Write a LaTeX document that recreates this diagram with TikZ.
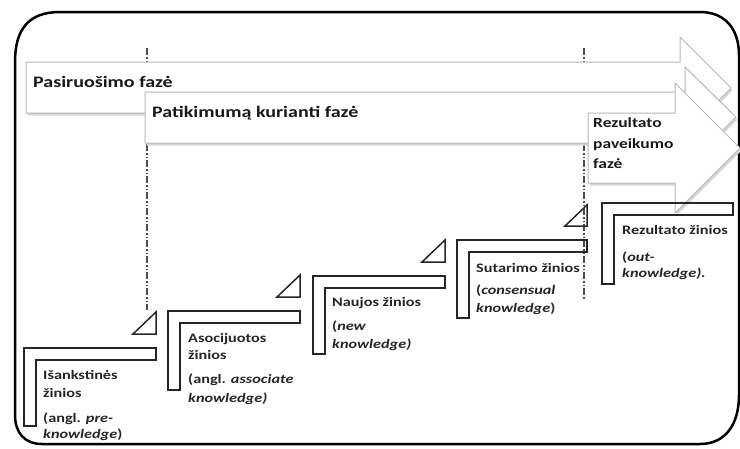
\documentclass[tikz,border=0pt]{standalone}
\usepackage{fontspec}
\setmainfont{Carlito}[FakeStretch=1.25]
\begin{document}
\begin{tikzpicture}[x=1pt,y=-1pt,
  arrowbox/.style={fill=white, draw=black!28, line width=1pt, line join=miter},
  arrowshadow/.style={fill=black!16, draw=none},
  stepbox/.style={draw=black!85, line width=1.6pt, line join=miter},
  tri/.style={draw=black!85, line width=1.5pt, line join=miter},
  guide/.style={draw=black!70, line width=1.2pt, dash pattern=on 7pt off 2pt on 1.5pt off 2pt on 1.5pt off 2pt},
  head/.style={anchor=base west, inner sep=0pt, text=black!90, font=\fontsize{16}{19}\selectfont\bfseries},
  headsmall/.style={anchor=base west, inner sep=0pt, text=black!90, font=\fontsize{14}{17}\selectfont\bfseries},
  txt/.style={anchor=base west, inner sep=0pt, text=black!85, font=\fontsize{13}{15}\selectfont\bfseries}]
\useasboundingbox (0,0) rectangle (740,448);
% frame
\draw[line width=2.5pt] (15,62) .. controls (15,30) and (28,12) .. (60,12) -- (700,12)
  .. controls (726,12) and (739,30) .. (739,55) -- (739,395)
  .. controls (739,425) and (725,444) .. (700,444) -- (42,444)
  .. controls (24,444) and (15,432) .. (15,415) -- cycle;
% guide lines
\coordinate (g1t) at (147,48);
\coordinate (g1b) at (147,310);
\coordinate (g2t) at (584,48);
\coordinate (g2b) at (584,300);
\draw[guide] (g1t) -- (g1b);
\draw[guide] (g2t) -- (g2b);
% arrow 1
\fill[arrowshadow, shift={(1.5,2.5)}] (26,62) -- (680,62) -- (680,37) -- (731,88) -- (680,139) -- (680,113) -- (26,113) -- cycle;
\draw[arrowbox] (26,62) -- (680,62) -- (680,37) -- (731,88) -- (680,139) -- (680,113) -- (26,113) -- cycle;
% arrow 2
\fill[arrowshadow, shift={(1.5,2.5)}] (145,92) -- (685,92) -- (685,67) -- (736,117) -- (685,168) -- (685,143) -- (145,143) -- cycle;
\draw[arrowbox] (145,92) -- (685,92) -- (685,67) -- (736,117) -- (685,168) -- (685,143) -- (145,143) -- cycle;
% arrow 3
\fill[arrowshadow, shift={(1.5,2.5)}] (588,113) -- (675,113) -- (675,83) -- (740,148) -- (675,213) -- (675,183) -- (588,183) -- cycle;
\draw[arrowbox] (588,113) -- (675,113) -- (675,83) -- (740,148) -- (675,213) -- (675,183) -- (588,183) -- cycle;
% steps
\draw[stepbox] (24,348) -- (156,348) -- (156,360) -- (36,360) -- (36,426) -- (24,426) -- cycle;
\draw[stepbox] (168,311) -- (300,311) -- (300,323) -- (180,323) -- (180,390) -- (168,390) -- cycle;
\draw[stepbox] (313,276) -- (445,276) -- (445,288) -- (325,288) -- (325,354) -- (313,354) -- cycle;
\draw[stepbox] (457,240) -- (587,240) -- (587,252) -- (469,252) -- (469,318) -- (457,318) -- cycle;
\draw[stepbox] (602,203) -- (733,203) -- (733,215) -- (614,215) -- (614,284) -- (602,284) -- cycle;
% triangles
\draw[tri] (133,334) -- (156,334) -- (156,312) -- cycle;
\draw[tri] (277,297) -- (300,297) -- (300,275) -- cycle;
\draw[tri] (422,262) -- (445,262) -- (445,240) -- cycle;
\draw[tri] (565,226) -- (587,226) -- (587,205) -- cycle;
% phase labels
\node[head] (h1) at (33,87) {Pasiruošimo fazė};
\node[head] (h2) at (152,117) {Patikimumą kurianti fazė};
\node[headsmall] (h3a) at (593,127) {Rezultato};
\node[headsmall] (h3b) at (593,148) {paveikumo};
\node[headsmall] (h3c) at (593,168) {fazė};
% step labels
\node[txt] (s1a) at (43,379) {Išankstinės};
\node[txt] (s1b) at (43,397) {žinios};
\node[txt] (s1c) at (43,422) {(angl. \textit{pre-}};
\node[txt] (s1d) at (43,438) {\textit{knowledge})};
\node[txt] (s2a) at (188,342) {Asocijuotos};
\node[txt] (s2b) at (188,359) {žinios};
\node[txt] (s2c) at (188,383) {(angl. \textit{associate}};
\node[txt] (s2d) at (188,402) {\textit{knowledge)}};
\node[txt] (s3a) at (332,306) {Naujos žinios};
\node[txt] (s3b) at (332,330) {(\textit{new}};
\node[txt] (s3c) at (332,348) {\textit{knowledge)}};
\node[txt] (s4a) at (476,272) {Sutarimo žinios};
\node[txt] (s4b) at (476,294) {(\textit{consensual}};
\node[txt] (s4c) at (476,312) {\textit{knowledge})};
\node[txt] (s5a) at (622,234) {Rezultato žinios};
\node[txt] (s5b) at (622,261) {(\textit{out-}};
\node[txt] (s5c) at (622,277) {\textit{knowledge).}};
\end{tikzpicture}
\end{document}
